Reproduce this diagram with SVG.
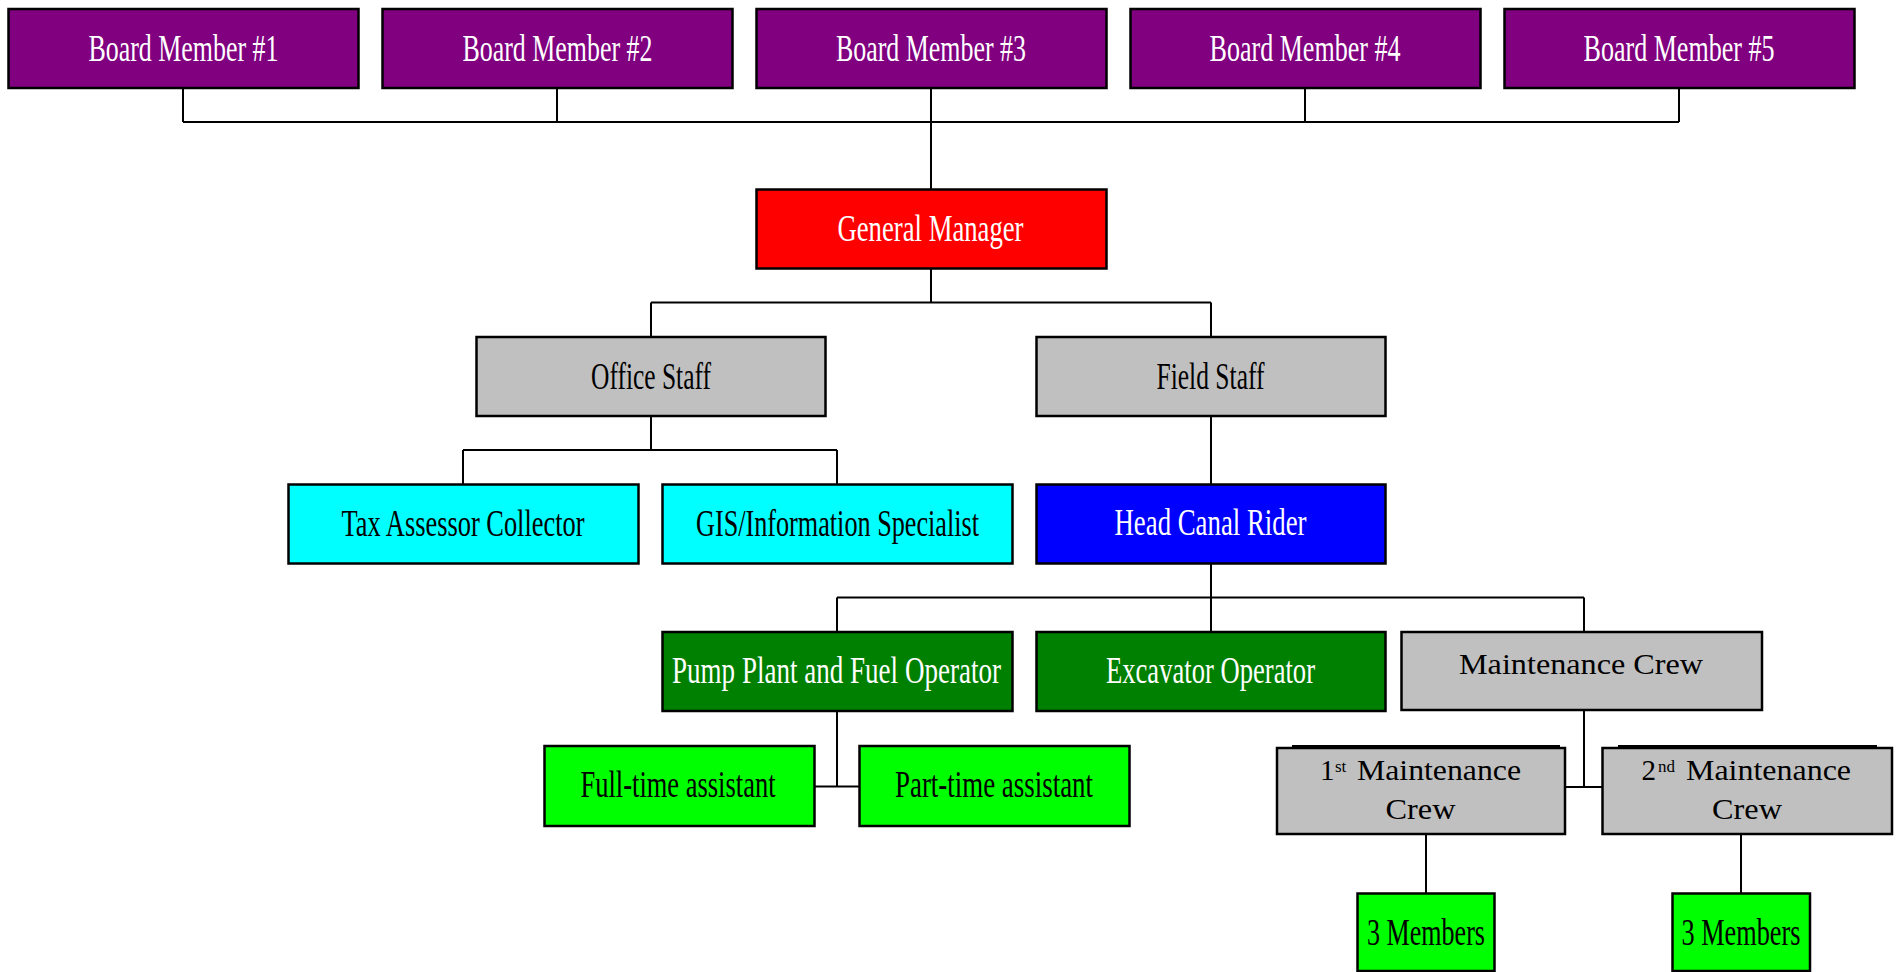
<svg xmlns="http://www.w3.org/2000/svg" width="1898" height="972" viewBox="0 0 1898 972">
<style>
.box{stroke:#000;stroke-width:2.5}
.purple{fill:#800080}.red{fill:#ff0000}.gray{fill:#c0c0c0}.cyan{fill:#00ffff}.blue{fill:#0000ff}.green{fill:#008000}.lime{fill:#00ff00}
.c{stroke:#000;stroke-width:2;fill:none}
.t{font-family:"Liberation Serif","Times New Roman",serif;font-size:37px;text-anchor:middle}
.m{font-family:"Liberation Serif","Times New Roman",serif;font-size:29px;fill:#000}
.sup{font-size:17px}
.w{fill:#fff}.k{fill:#000}
.sh{stroke:#000;stroke-width:2}
</style>
<rect width="1898" height="972" fill="#fff"/>
<g id="connectors">
<path class="c" d="M183 88V122M557 88V122M931 88V189.5M1305 88V122M1679 88V122M183 122H1679"/>
<path class="c" d="M931 268V302.5M651 302.5H1211M651 302.5V337M1211 302.5V337"/>
<path class="c" d="M651 416V450M463 450H837M463 450V484.5M837 450V484.5"/>
<path class="c" d="M1211 416V484.5"/>
<path class="c" d="M1211 563.5V632M837 597.5H1584M837 597.5V632M1584 597.5V632"/>
<path class="c" d="M837 711V786.5M814.5 786.5H859.5"/>
<path class="c" d="M1584 710V787M1565 787H1602.5"/>
<path class="c" d="M1426 834V893.5M1741 834V893.5"/>
</g>
<g id="board1"><rect class="box purple" x="8.5" y="9" width="350" height="79"/><text class="t w" x="183.5" y="61" textLength="190" lengthAdjust="spacingAndGlyphs">Board Member #1</text></g>
<g id="board2"><rect class="box purple" x="382.5" y="9" width="350" height="79"/><text class="t w" x="557.5" y="61" textLength="190" lengthAdjust="spacingAndGlyphs">Board Member #2</text></g>
<g id="board3"><rect class="box purple" x="756.5" y="9" width="350" height="79"/><text class="t w" x="931" y="61" textLength="190" lengthAdjust="spacingAndGlyphs">Board Member #3</text></g>
<g id="board4"><rect class="box purple" x="1130.5" y="9" width="350" height="79"/><text class="t w" x="1305" y="61" textLength="191" lengthAdjust="spacingAndGlyphs">Board Member #4</text></g>
<g id="board5"><rect class="box purple" x="1504.5" y="9" width="350" height="79"/><text class="t w" x="1679" y="61" textLength="191" lengthAdjust="spacingAndGlyphs">Board Member #5</text></g>
<g id="general-manager"><rect class="box red" x="756.5" y="189.5" width="350" height="79"/><text class="t w" x="930.5" y="241" textLength="186" lengthAdjust="spacingAndGlyphs">General Manager</text></g>
<g id="office-staff"><rect class="box gray" x="476.5" y="337" width="349" height="79"/><text class="t k" x="651" y="389" textLength="120" lengthAdjust="spacingAndGlyphs">Office Staff</text></g>
<g id="field-staff"><rect class="box gray" x="1036.5" y="337" width="349" height="79"/><text class="t k" x="1210.5" y="389" textLength="108" lengthAdjust="spacingAndGlyphs">Field Staff</text></g>
<g id="tax-assessor"><rect class="box cyan" x="288.5" y="484.5" width="350" height="79"/><text class="t k" x="463" y="536" textLength="243" lengthAdjust="spacingAndGlyphs">Tax Assessor Collector</text></g>
<g id="gis-specialist"><rect class="box cyan" x="662.5" y="484.5" width="350" height="79"/><text class="t k" x="837.5" y="536" textLength="283" lengthAdjust="spacingAndGlyphs">GIS/Information Specialist</text></g>
<g id="head-canal-rider"><rect class="box blue" x="1036.5" y="484.5" width="349" height="79"/><text class="t w" x="1210.5" y="535" textLength="192" lengthAdjust="spacingAndGlyphs">Head Canal Rider</text></g>
<g id="pump-plant"><rect class="box green" x="662.5" y="632" width="350" height="79"/><text class="t w" x="836.5" y="683" textLength="329" lengthAdjust="spacingAndGlyphs">Pump Plant and Fuel Operator</text></g>
<g id="excavator"><rect class="box green" x="1036.5" y="632" width="349" height="79"/><text class="t w" x="1210.5" y="683" textLength="209" lengthAdjust="spacingAndGlyphs">Excavator Operator</text></g>
<g id="maintenance-crew"><rect class="box gray" x="1401.5" y="632" width="360.5" height="78"/><text class="m" x="1581" y="674" text-anchor="middle" textLength="244" lengthAdjust="spacingAndGlyphs">Maintenance Crew</text></g>
<g id="full-time"><rect class="box lime" x="544.5" y="746" width="270" height="80"/><text class="t k" x="678" y="797" textLength="195" lengthAdjust="spacingAndGlyphs">Full-time assistant</text></g>
<g id="part-time"><rect class="box lime" x="859.5" y="746" width="270" height="80"/><text class="t k" x="994" y="797" textLength="198" lengthAdjust="spacingAndGlyphs">Part-time assistant</text></g>
<g id="maint-crew-1"><line class="sh" x1="1292" y1="746" x2="1560" y2="746"/><rect class="box gray" x="1277" y="748" width="288" height="86"/><text class="m" y="780"><tspan x="1320">1</tspan><tspan class="sup" x="1335" y="772">st</tspan><tspan x="1357" y="780" textLength="164" lengthAdjust="spacingAndGlyphs">Maintenance</tspan></text><text class="m" x="1420.5" y="819" text-anchor="middle" textLength="70" lengthAdjust="spacingAndGlyphs">Crew</text></g>
<g id="maint-crew-2"><line class="sh" x1="1618" y1="746" x2="1877" y2="746"/><rect class="box gray" x="1602.5" y="748" width="289.5" height="86"/><text class="m" y="780"><tspan x="1641.5">2</tspan><tspan class="sup" x="1658" y="772">nd</tspan><tspan x="1686" y="780" textLength="165" lengthAdjust="spacingAndGlyphs">Maintenance</tspan></text><text class="m" x="1747" y="819" text-anchor="middle" textLength="70" lengthAdjust="spacingAndGlyphs">Crew</text></g>
<g id="members-1"><rect class="box lime" x="1357.5" y="893.5" width="137" height="77.5"/><text class="t k" x="1426" y="945" textLength="118" lengthAdjust="spacingAndGlyphs">3 Members</text></g>
<g id="members-2"><rect class="box lime" x="1672.5" y="893.5" width="137.5" height="77.5"/><text class="t k" x="1741" y="945" textLength="119" lengthAdjust="spacingAndGlyphs">3 Members</text></g>
</svg>
